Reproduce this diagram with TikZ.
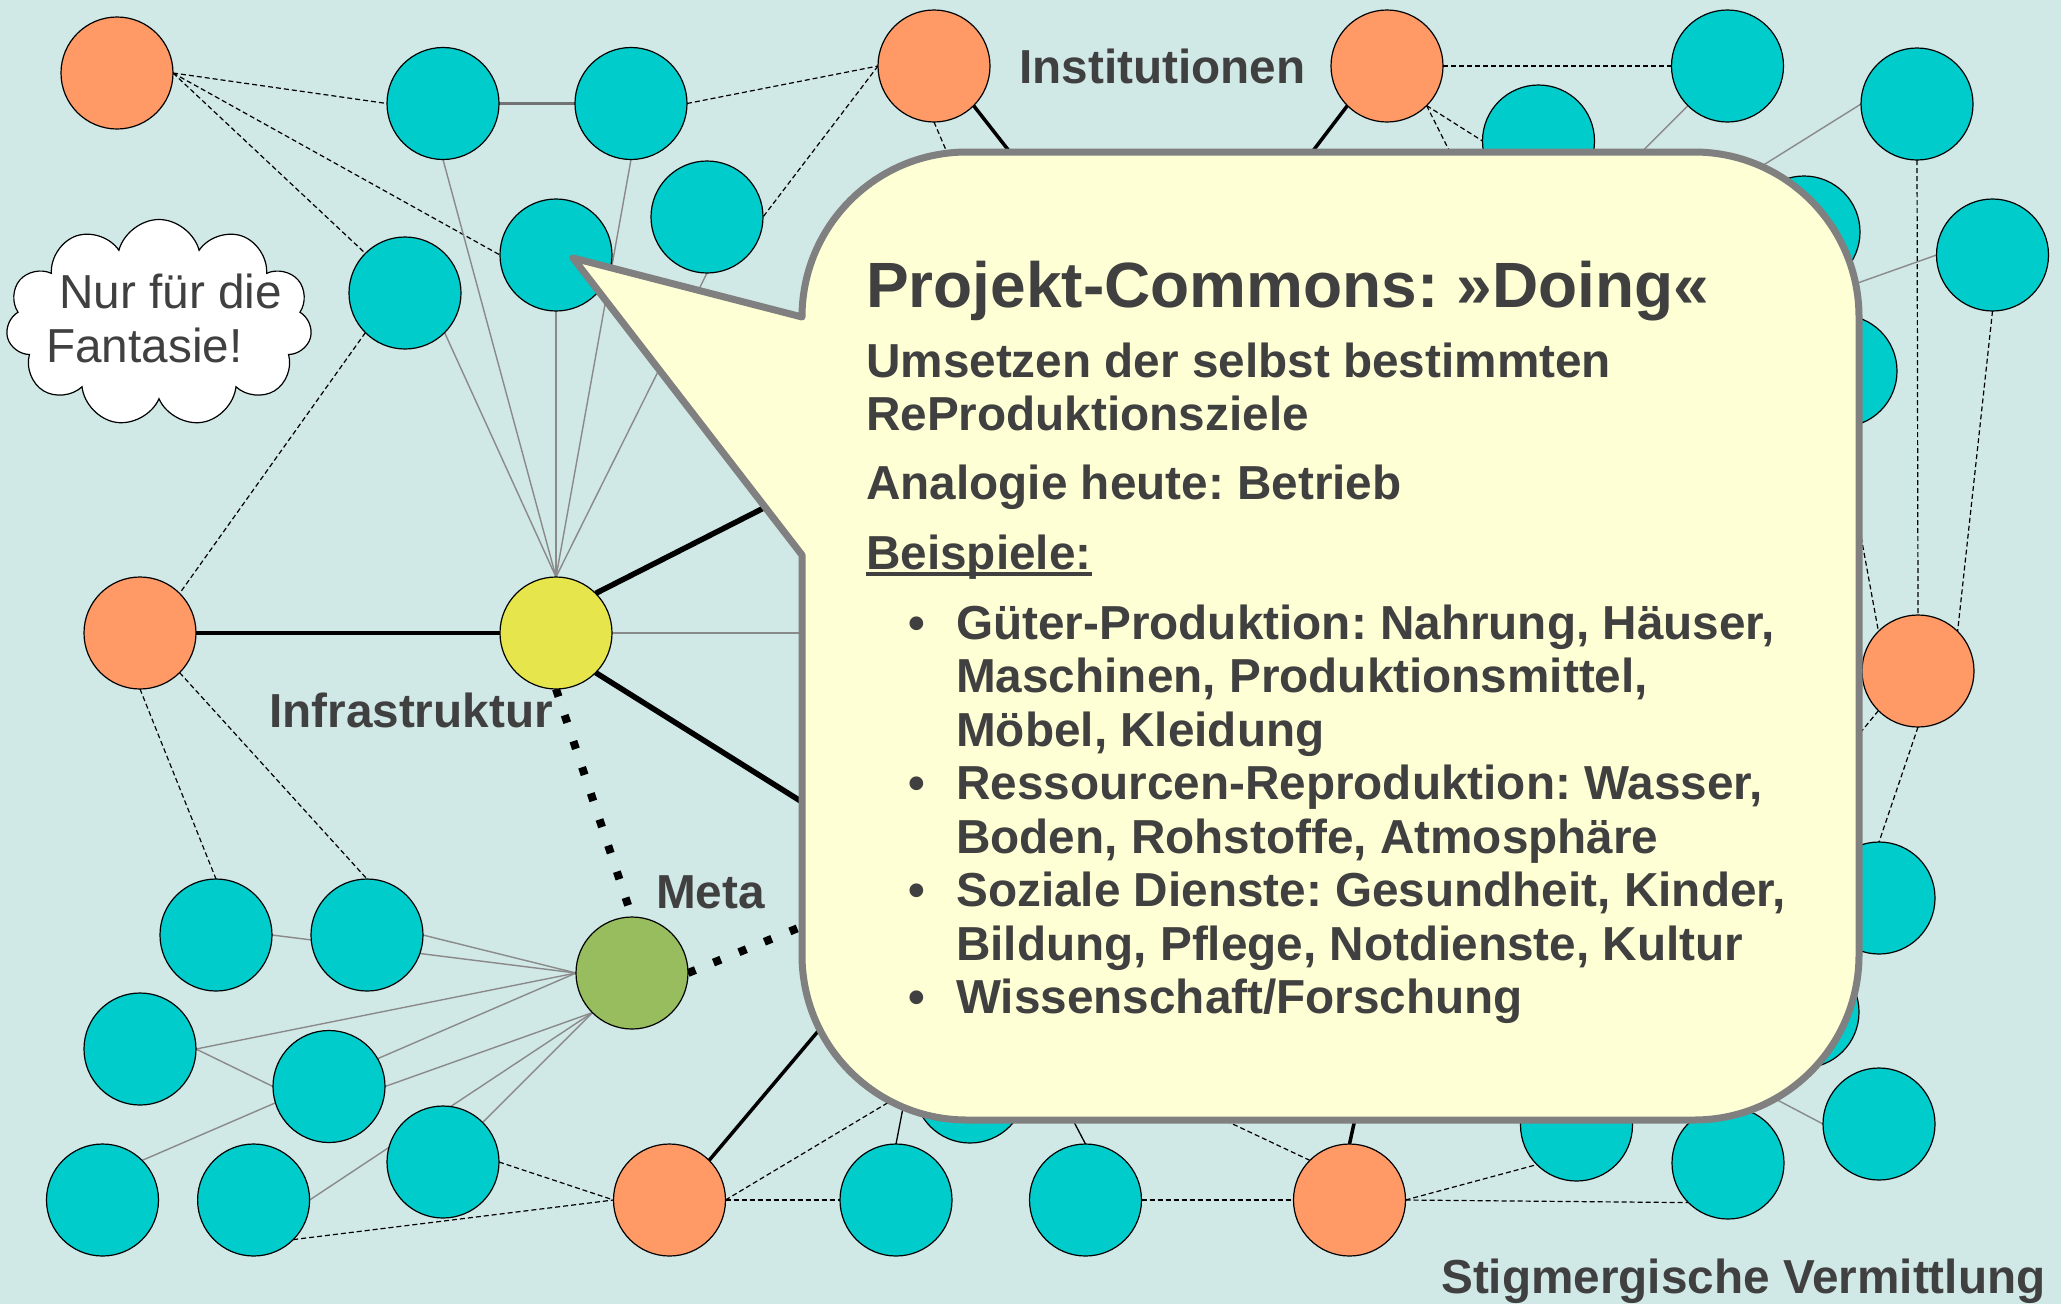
\documentclass[tikz,border=0pt]{standalone}
\usepackage{fontspec}
\setmainfont{Liberation Sans}
\usetikzlibrary{shapes.symbols}
\frenchspacing
\definecolor{bgc}{RGB}{208,232,230}
\definecolor{cyanfill}{RGB}{0,204,204}
\definecolor{orfill}{RGB}{255,153,102}
\definecolor{yelfill}{RGB}{230,230,76}
\definecolor{grnfill}{RGB}{151,189,94}
\definecolor{callfill}{RGB}{255,255,213}
\definecolor{callborder}{RGB}{128,128,128}
\definecolor{txt}{RGB}{64,64,64}
\definecolor{linegray}{RGB}{138,138,138}
\begin{document}
\begin{tikzpicture}[x=1pt,y=-1pt,
  ghost/.style={circle,minimum size=112pt,inner sep=0pt,outer sep=0pt},
  nd/.style={circle,draw=black,line width=1.2pt,minimum size=112pt,inner sep=0pt},
  cy/.style={nd,fill=cyanfill},
  orn/.style={nd,fill=orfill},
  dsh/.style={line width=1.2pt,dash pattern=on 5pt off 3pt,black},
  gry/.style={line width=1.4pt,linegray},
  gryk/.style={line width=2.6pt,black!55},
  thk/.style={line width=3.5pt,black},
  thkk/.style={line width=5.5pt,black},
  dotsq/.style={line width=8pt,dash pattern=on 8pt off 19.5pt,black},
  lbl/.style={inner sep=0pt,anchor=base west,text=txt,font=\fontsize{47.7}{54}\selectfont\bfseries},
  bul/.style={inner sep=0pt,anchor=base,text=txt,font=\fontsize{47.7}{54}\selectfont\bfseries},
  callout/.style={draw=callborder,line width=7pt,fill=callfill,line join=round}
]
\fill[bgc] (0,0) rectangle (2061,1304);
\useasboundingbox (0,0) rectangle (2061,1304);

% ---------- node positions (invisible, for anchors) ----------
\path
  (117,73)    node[ghost] (O1) {}
  (934,66)    node[ghost] (O2) {}
  (1387,66)   node[ghost] (O3) {}
  (140,633)   node[ghost] (O4) {}
  (1918,671)  node[ghost] (O5) {}
  (669.5,1200) node[ghost] (O6) {}
  (1349.5,1200) node[ghost] (O7) {}
  (556,633)   node[ghost] (Y) {}
  (632,973)   node[ghost] (G) {}
  (443,103.5) node[ghost] (C1) {}
  (631,103.5) node[ghost] (C2) {}
  (707,217)   node[ghost] (C3) {}
  (556,255)   node[ghost] (C4) {}
  (405,293)   node[ghost] (C5) {}
  (1727.5,66) node[ghost] (C6) {}
  (1917,104)  node[ghost] (C7) {}
  (1538.5,141) node[ghost] (C8) {}
  (1992.5,255) node[ghost] (C9) {}
  (1804,232)  node[ghost] (C10) {}
  (1841,371)  node[ghost] (C11) {}
  (1879,898)  node[ghost] (C12) {}
  (1803,1012) node[ghost] (C13) {}
  (1879,1124) node[ghost] (C14) {}
  (1728,1163) node[ghost] (C15) {}
  (1576.5,1125) node[ghost] (C16) {}
  (970,1087)  node[ghost] (C17) {}
  (1085.5,1200) node[ghost] (C18) {}
  (896,1200)  node[ghost] (C19) {}
  (216,935)   node[ghost] (C20) {}
  (367,935)   node[ghost] (C21) {}
  (140,1049)  node[ghost] (C22) {}
  (329,1086.5) node[ghost] (C23) {}
  (443,1162)  node[ghost] (C24) {}
  (102.5,1200) node[ghost] (C25) {}
  (253.6,1200) node[ghost] (C26) {};

% hidden ends (behind the callout)
\coordinate (h1) at (1163,348);
\coordinate (h2) at (1010,300);
\coordinate (h3) at (1524,300);
\coordinate (h4) at (1560,234);
\coordinate (h5) at (1650,236);
\coordinate (h6) at (1700,339);
\coordinate (h7) at (1750,868);
\coordinate (h8) at (1650,1033);
\coordinate (h9) at (1150,1085);
\coordinate (h10) at (1370,1050);
\coordinate (h11) at (900,934);
\coordinate (h12) at (950,866);
\coordinate (hA) at (1000,388);
\coordinate (hB) at (1100,633);
\coordinate (hC) at (1000,926);
\coordinate (T1) at (947,880);

% ---------- edges ----------
\draw[dsh] (O1.east) -- (C1.west);
\draw[dsh] (O1.east) -- (C5.north west);
\draw[dsh] (O1.east) -- (C4.west);
\draw[dsh] (C2.east) -- (O2.west);
\draw[dsh] (O2.west) -- (C3.east);
\draw[dsh] (O2.south) -- (h2);
\draw[dsh] (C5.south west) -- (O4.north east);
\draw[dsh] (O4.south) -- (C20.north);
\draw[dsh] (O4.south east) -- (C21.north);
\draw[dsh] (C24.east) -- (O6.west);
\draw[dsh] (C26.south east) -- (O6.west);
\draw[dsh] (O6.east) -- (C19.west);
\draw[dsh] (O6.east) -- (C17.west);
\draw[dsh] (C18.east) -- (O7.west);
\draw[dsh] (O7.east) -- (C16.south west);
\draw[dsh] (O7.east) -- (C15.south west);
\draw[dsh] (O7.north west) -- (h9);
\draw[dsh] (O3.east) -- (C6.west);
\draw[dsh] (O3.south east) -- (C8.west);
\draw[dsh] (O3.south east) -- (h3);
\draw[dsh] (C7.south) -- (O5.north);
\draw[dsh] (C9.south) -- (O5.north east);
\draw[dsh] (C11.south) -- (O5.north west);
\draw[dsh] (O5.south) -- (C12.north);
\draw[dsh] (O5.south west) -- (h7);

\draw[gry] (C1.south) -- (Y.north);
\draw[gry] (C2.south) -- (Y.north);
\draw[gry] (C3.south) -- (Y.north);
\draw[gry] (C4.south) -- (Y.north);
\draw[gry] (C5.south east) -- (Y.north);
\draw[gry] (Y.east) -- (hB);
\draw[gry] (C20.east) -- (G.west);
\draw[gry] (C21.east) -- (G.west);
\draw[gry] (C22.east) -- (G.west);
\draw[gry] (C25.north east) -- (G.west);
\draw[gry] (C23.east) -- (G.south west);
\draw[gry] (C26.east) -- (G.south west);
\draw[gry] (C24.north east) -- (G.south west);
\draw[gry] (C22.east) -- (C23.west);
\draw[gry] (C6.south west) -- (h4);
\draw[gry] (C7.west) -- (h5);
\draw[gry] (C9.west) -- (h6);
\draw[gry] (C14.west) -- (h8);
\draw[gryk] (C1.east) -- (C2.west);

\draw[line width=1.3pt] (C19.north) -- (T1);
\draw[line width=1.3pt] (C18.north) -- (T1);

\draw[line width=4pt] (O4.east) -- (Y.west);
\draw[thkk] (Y.north east) -- (hA);
\draw[thkk] (Y.south east) -- (hC);
\draw[thk] (O2.south east) -- (h1);
\draw[thk] (O3.south west) -- (h1);
\draw[thk] (O6.north east) -- (h11);
\draw[thk] (O7.north) -- (h10);
\draw[dotsq] (Y.south) -- (G.north);
\draw[dotsq] (G.east) -- (h12);

% ---------- visible circles on top of edges ----------
\foreach \n/\s in {O1/orn,O2/orn,O3/orn,O4/orn,O5/orn,O6/orn,O7/orn,
  C1/cy,C2/cy,C3/cy,C4/cy,C5/cy,C6/cy,C7/cy,C8/cy,C9/cy,C10/cy,C11/cy,C12/cy,C13/cy,
  C14/cy,C15/cy,C16/cy,C17/cy,C18/cy,C19/cy,C20/cy,C21/cy,C22/cy,C23/cy,C24/cy,C25/cy,C26/cy}
  {\node[\s] at (\n) {};}
\node[nd,fill=yelfill] at (Y) {};
\node[nd,fill=grnfill] at (G) {};

% ---------- cloud ----------
\node[cloud,cloud puffs=11,cloud ignores aspect,draw=black,line width=1.2pt,fill=white,
  minimum width=306pt,minimum height=207pt,inner sep=0pt] (cloud) at (159,323) {};
\node[inner sep=0pt,anchor=base west,text=txt,font=\fontsize{47.7}{54}\selectfont] (cl1) at (59,308) {Nur für die};
\node[inner sep=0pt,anchor=base west,text=txt,font=\fontsize{47.7}{54}\selectfont] (cl2) at (46,362) {Fantasie!};

% ---------- callout ----------
\draw[callout] (573,258) -- (802,317)
  arc[start angle=180,end angle=270,radius=165] -- (1694,152)
  arc[start angle=270,end angle=360,radius=165] -- (1859,955)
  arc[start angle=0,end angle=90,radius=165] -- (967,1120)
  arc[start angle=90,end angle=180,radius=165] -- (802,555) -- cycle;

\node[lbl,font=\fontsize{64}{70}\selectfont\bfseries] (title) at (866,307) {Projekt-Commons: »Doing«};
\node[lbl] (t1) at (866,377) {Umsetzen der selbst bestimmten};
\node[lbl] (t2) at (866,430) {ReProduktionsziele};
\node[lbl] (t3) at (866,499) {Analogie heute: Betrieb};
\node[lbl] (t4) at (866,569) {Beispiele:};
\draw[txt,line width=3.5pt] ([yshift=-5pt]t4.base west) -- ([yshift=-5pt]t4.base east);

\node[bul] (b1) at (917,639) {•};
\node[lbl] (l1) at (956,639) {Güter-Produktion: Nahrung, Häuser,};
\node[lbl] (l2) at (956,692.5) {Maschinen, Produktionsmittel,};
\node[lbl] (l3) at (956,746) {Möbel, Kleidung};
\node[bul] (b2) at (917,799.5) {•};
\node[lbl] (l4) at (956,799.5) {Ressourcen-Reproduktion: Wasser,};
\node[lbl] (l5) at (956,853) {Boden, Rohstoffe, Atmosphäre};
\node[bul] (b3) at (917,906.5) {•};
\node[lbl] (l6) at (956,906.5) {Soziale Dienste: Gesundheit, Kinder,};
\node[lbl] (l7) at (956,960) {Bildung, Pflege, Notdienste, Kultur};
\node[bul] (b4) at (917,1013.5) {•};
\node[lbl] (l8) at (956,1013.5) {Wissenschaft/Forschung};

% ---------- labels ----------
\node[lbl] (lInst) at (1019,83) {Institutionen};
\node[lbl] (lInfra) at (269,727) {Infrastruktur};
\node[lbl] (lMeta) at (656,908) {Meta};
\node[lbl] (lStig) at (1441,1293) {Stigmergische Vermittlung};
\end{tikzpicture}
\end{document}
